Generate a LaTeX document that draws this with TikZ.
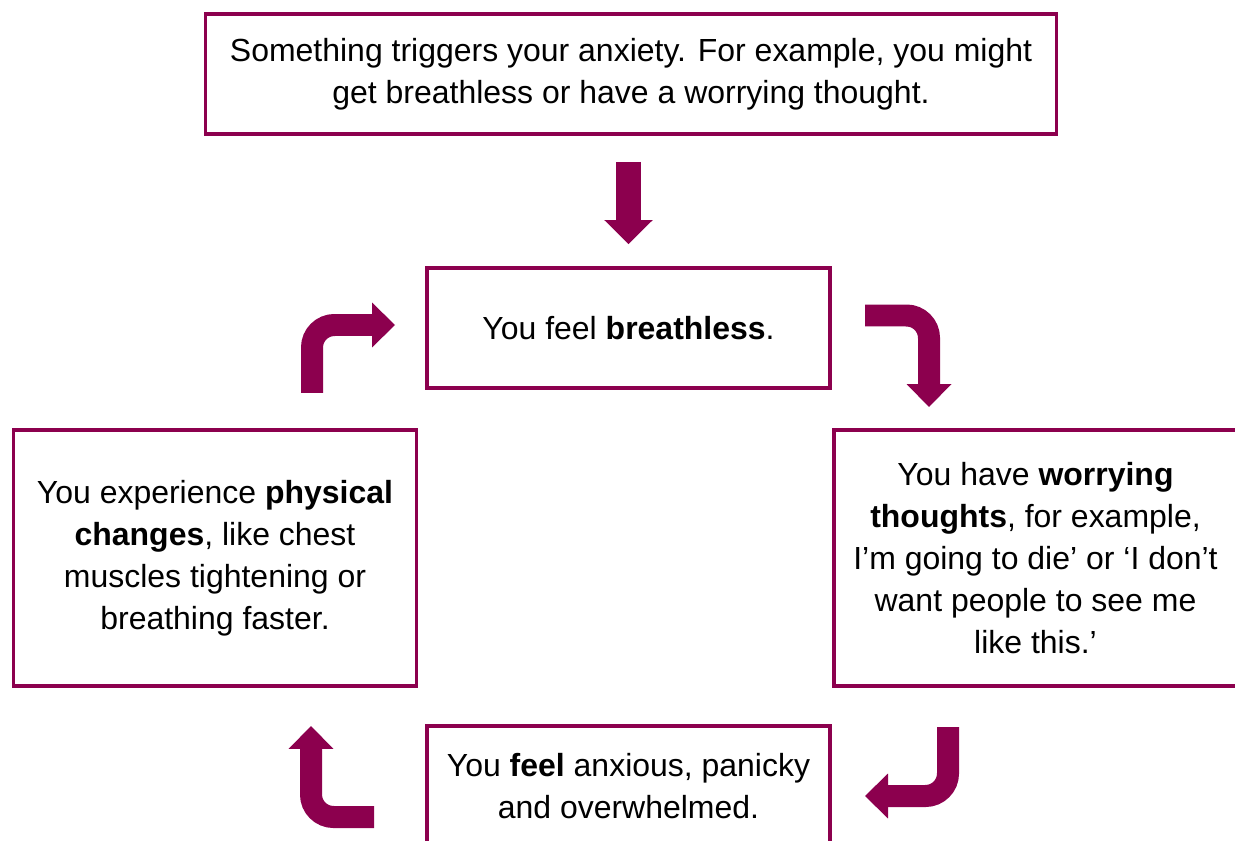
\documentclass[tikz,border=0pt]{standalone}
\usepackage{fontspec}
\setmainfont{Liberation Sans}
\usetikzlibrary{arrows.meta}
\definecolor{plum}{RGB}{140,0,78}

\begin{document}
\begin{tikzpicture}[
		x=0.02cm,y=-0.02cm,
		every node/.append style={rectangle,draw=plum,line width=0.07cm,align=center,inner sep=0pt,font=\fontsize{18.2}{23.9}\selectfont},
		wide/.style={minimum width=17.02cm,minimum height=2.41cm},
		small/.style={minimum width=8.07cm,minimum height=2.41cm},
		tall/.style={minimum width=8.07cm,minimum height=5.13cm},
		turn/.style={draw=plum,line width=0.44cm,rounded corners=0.45cm,-{Triangle[width=0.9cm,length=0.46cm,line width=0pt]}}
	]
	\useasboundingbox (0,0) rectangle (1235,841);
	\clip (0,0) rectangle (1235,841);
	\node[wide] (T) at (631,74) {
		Something triggers your anxiety. For example, you might\\get breathless or have a worrying thought.
	};
	\node[small] (B) at (628.5,328) {You feel \textbf{breathless}.};
	\node[tall] (W) at (1035.5,558) {
		You have \textbf{worrying}\\\textbf{thoughts}, for example,\\I’m going to die’ or ‘I don’t\\want people to see me\\like this.’
	};
	\node[small] (F) at (628.5,786) {
		You \textbf{feel} anxious, panicky\\and overwhelmed.
	};
	\node[tall] (P) at (215,558) {
		You experience \textbf{physical}\\\textbf{changes}, like chest\\muscles tightening or\\breathing faster.
	};
	\coordinate (a1) at (312,393);
	\coordinate (b1) at (395,325);
	\coordinate (a2) at (865,315.5);
	\coordinate (b2) at (929,407);
	\coordinate (a3) at (948,727);
	\coordinate (b3) at (865,796);
	\coordinate (a4) at (374,817);
	\coordinate (b4) at (311,726);
	\draw[turn,line width=0.49cm,shorten <=0.52cm,shorten >=0.44cm,-{Triangle[width=0.97cm,length=0.48cm,line width=0pt]}] (T.south -| B) -- (B);
	\draw[turn] (a1) |- (b1);
	\draw[turn] (a2) -| (b2);
	\draw[turn] (a3) |- (b3);
	\draw[turn] (a4) -| (b4);
\end{tikzpicture}
\end{document}
